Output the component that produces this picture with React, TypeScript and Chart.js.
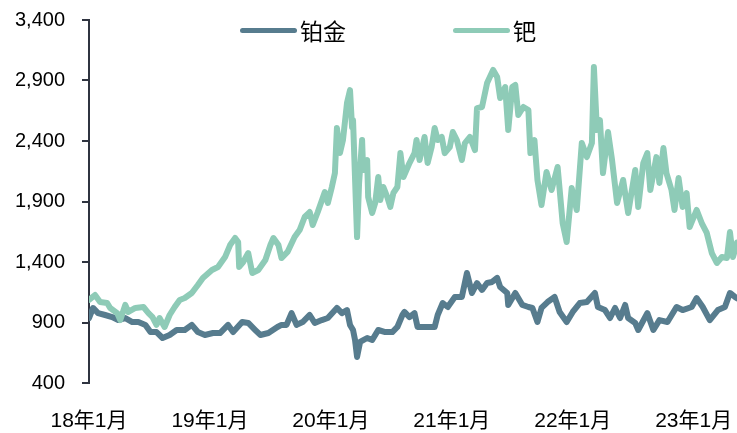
import React, { useEffect, useRef } from "react";
import { Chart, registerables } from "chart.js";
Chart.register(...registerables);

// x positions are months counted from Jan 2018
const xTickMonths = [0, 12, 24, 36, 48, 60];
const xTickLabels = ["18年1月", "19年1月", "20年1月", "21年1月", "22年1月", "23年1月"];
const yTickValues = [400, 900, 1400, 1900, 2400, 2900, 3400];
const seriesNames = ["铂金", "钯"];

const ptMonths = [0, 0.4, 0.9, 1.6, 2.3, 2.9, 3.6, 4.3, 4.9, 5.6, 6.1, 6.7, 7.3, 8.0, 8.7, 9.5, 10.2, 10.8, 11.5, 12.3, 13.0, 13.8, 14.3, 15.2, 15.8, 16.5, 17.0, 17.8, 18.7, 19.1, 19.6, 20.1, 20.6, 21.2, 21.9, 22.4, 23.1, 23.7, 24.6, 25.1, 25.6, 25.9, 26.2, 26.4, 26.6, 26.9, 27.6, 28.1, 28.7, 29.4, 30.1, 30.6, 31.1, 31.3, 31.8, 32.3, 32.6, 33.1, 33.8, 34.3, 34.6, 35.1, 35.6, 36.3, 37.0, 37.5, 38.0, 38.5, 39.0, 39.5, 40.0, 40.5, 40.8, 41.5, 41.6, 42.3, 43.0, 43.6, 44.0, 44.5, 44.9, 45.5, 46.2, 46.7, 47.4, 48.0, 48.7, 49.4, 50.2, 50.5, 51.2, 51.7, 52.2, 52.7, 53.2, 53.5, 54.2, 54.5, 55.4, 56.0, 56.6, 57.4, 58.3, 58.9, 59.8, 60.3, 60.9, 61.6, 62.4, 63.1, 63.6, 64.1, 64.3];
const ptValues = [937, 1020, 978, 962, 945, 920, 937, 904, 904, 880, 821, 821, 772, 797, 838, 838, 880, 821, 797, 813, 813, 880, 821, 904, 896, 838, 797, 813, 863, 880, 880, 978, 880, 904, 962, 896, 920, 937, 1020, 978, 1003, 880, 838, 755, 615, 739, 772, 755, 838, 821, 821, 863, 962, 987, 945, 978, 863, 863, 863, 863, 962, 1061, 1028, 1111, 1111, 1309, 1144, 1226, 1169, 1226, 1235, 1268, 1193, 1144, 1045, 1144, 1045, 1028, 1020, 904, 1020, 1069, 1111, 987, 904, 987, 1061, 1069, 1144, 1028, 1003, 937, 1020, 937, 1045, 937, 896, 838, 978, 838, 920, 904, 1028, 1003, 1028, 1102, 1028, 920, 1003, 1028, 1144, 1111, 1100];

const pdMonths = [0, 0.6, 1.1, 1.8, 2.1, 2.8, 3.1, 3.6, 3.9, 4.6, 5.4, 5.9, 6.3, 6.7, 7.0, 7.5, 8.0, 8.5, 9.0, 9.5, 10.2, 10.8, 11.3, 12.2, 12.8, 13.5, 14.0, 14.5, 14.8, 14.9, 15.3, 15.8, 16.2, 16.8, 17.5, 18.0, 18.3, 18.8, 19.1, 19.7, 20.4, 20.9, 21.4, 21.9, 22.2, 22.7, 23.4, 23.7, 24.1, 24.4, 24.6, 24.9, 25.2, 25.6, 25.9, 26.1, 26.2, 26.6, 26.8, 27.1, 27.2, 27.6, 27.7, 28.1, 28.4, 28.7, 28.9, 29.2, 29.6, 29.9, 30.2, 30.6, 30.9, 31.2, 31.5, 31.8, 32.3, 32.5, 32.8, 33.3, 33.6, 34.0, 34.3, 34.6, 35.0, 35.3, 35.8, 36.1, 36.5, 37.0, 37.3, 37.8, 38.3, 38.5, 39.0, 39.5, 40.1, 40.5, 40.8, 41.3, 41.6, 42.0, 42.3, 42.6, 43.1, 43.6, 43.8, 44.2, 44.5, 44.9, 45.4, 45.9, 46.5, 47.0, 47.4, 47.9, 48.4, 48.9, 49.4, 49.9, 50.1, 50.4, 50.7, 51.0, 51.5, 51.9, 52.4, 53.0, 53.5, 54.2, 54.5, 55.0, 55.4, 55.7, 56.3, 56.6, 57.0, 57.3, 57.8, 58.1, 58.5, 58.9, 59.3, 59.6, 60.3, 60.8, 61.3, 61.8, 62.3, 62.8, 63.3, 63.6, 63.9, 64.3];
const pdValues = [1086, 1127, 1070, 1061, 1020, 978, 920, 1045, 987, 1020, 1028, 978, 945, 880, 937, 863, 962, 1028, 1086, 1102, 1144, 1210, 1268, 1334, 1359, 1441, 1540, 1598, 1565, 1359, 1400, 1474, 1309, 1334, 1416, 1540, 1598, 1540, 1433, 1483, 1606, 1664, 1772, 1813, 1706, 1813, 1978, 1888, 2020, 2135, 2507, 2300, 2408, 2714, 2821, 2516, 2573, 1606, 2053, 2408, 2160, 2243, 1937, 1805, 1888, 2102, 1912, 2020, 1937, 1855, 1970, 2020, 2300, 2102, 2160, 2218, 2300, 2408, 2243, 2433, 2218, 2350, 2507, 2408, 2433, 2300, 2350, 2474, 2408, 2243, 2383, 2433, 2325, 2672, 2681, 2879, 2987, 2929, 2755, 2846, 2491, 2846, 2863, 2615, 2681, 2656, 2300, 2408, 2078, 1871, 2144, 1995, 2185, 1722, 1565, 2011, 1830, 2383, 2267, 2383, 3011, 2491, 2573, 2135, 2474, 2243, 1888, 2078, 1805, 2160, 1855, 2218, 2300, 1995, 2267, 2053, 2342, 2135, 1995, 1830, 2094, 1855, 1970, 1689, 1830, 1722, 1640, 1474, 1392, 1441, 1433, 1648, 1441, 1560];

const PT_COLOR = "#577c8e";
const PD_COLOR = "#8ecbb7";
const AXIS_COLOR = "#2f3440";
const X_MAX = 64.3;

export default function App() {
  const ref = useRef<HTMLCanvasElement | null>(null);

  useEffect(() => {
    if (!ref.current) return;
    const chart = new Chart(ref.current, {
      type: "line",
      data: {
        datasets: [
          {
            label: seriesNames[0],
            data: ptMonths.map((m, i) => ({ x: m, y: ptValues[i] })),
            borderColor: PT_COLOR,
            backgroundColor: PT_COLOR,
            borderWidth: 6,
            pointRadius: 0,
            tension: 0,
            borderCapStyle: "round",
            borderJoinStyle: "round",
            order: 2,
          },
          {
            label: seriesNames[1],
            data: pdMonths.map((m, i) => ({ x: m, y: pdValues[i] })),
            borderColor: PD_COLOR,
            backgroundColor: PD_COLOR,
            borderWidth: 6,
            pointRadius: 0,
            tension: 0,
            borderCapStyle: "round",
            borderJoinStyle: "round",
            order: 1,
          },
        ],
      },
      options: {
        responsive: false,
        animation: false,
        devicePixelRatio: 1,
        layout: { padding: { top: 20, right: 0, bottom: 0, left: 0 } },
        plugins: { legend: { display: false }, tooltip: { enabled: false } },
        scales: {
          x: {
            type: "linear",
            min: 0,
            max: X_MAX,
            afterBuildTicks: (s: any) => {
              s.ticks = xTickMonths.map((v) => ({ value: v }));
            },
            afterFit: (s: any) => {
              s.height = 50;
              s.paddingLeft = 0;
              s.paddingRight = 0;
            },
            grid: { display: false, drawTicks: false },
            border: { display: false },
            ticks: {
              autoSkip: false,
              maxRotation: 0,
              padding: 26,
              color: "#000",
              font: { family: "'Liberation Sans', 'Noto Sans CJK SC'", size: 21 },
              callback: (v: any) => {
                const i = xTickMonths.indexOf(Number(v));
                return i >= 0 ? xTickLabels[i] : "";
              },
            },
          },
          y: {
            type: "linear",
            min: 400,
            max: 3400,
            afterBuildTicks: (s: any) => {
              s.ticks = yTickValues.map((v) => ({ value: v }));
            },
            afterFit: (s: any) => {
              s.width = 89;
              s.paddingTop = 0;
              s.paddingBottom = 0;
            },
            grid: {
              display: true,
              drawOnChartArea: false,
              drawTicks: true,
              tickLength: 7,
              color: AXIS_COLOR,
              lineWidth: 2,
            },
            border: { display: true, color: AXIS_COLOR, width: 2 },
            ticks: {
              padding: 17,
              color: "#000",
              font: { family: "'Liberation Sans', 'Noto Sans CJK SC'", size: 20 },
              callback: (v: any) => Number(v).toLocaleString("en-US"),
            },
          },
        },
      },
    });
    return () => chart.destroy();
  }, []);

  const legendText: React.CSSProperties = {
    position: "absolute",
    top: 18,
    fontFamily: "'Noto Sans CJK SC', sans-serif",
    fontSize: 23,
    lineHeight: "24px",
    color: "#000",
    whiteSpace: "nowrap",
  };
  const legendLine: React.CSSProperties = {
    position: "absolute",
    top: 28,
    width: 57,
    height: 5,
    borderRadius: 3,
  };

  return (
    <div style={{ position: "absolute", left: 0, top: 0, width: 737, height: 433, background: "#fff" }}>
      <canvas ref={ref} width={737} height={433} style={{ display: "block" }} />
      <div style={{ ...legendLine, left: 240, background: PT_COLOR }} />
      <div style={{ ...legendText, left: 300 }}>{seriesNames[0]}</div>
      <div style={{ ...legendLine, left: 453, background: PD_COLOR }} />
      <div style={{ ...legendText, left: 513 }}>{seriesNames[1]}</div>
    </div>
  );
}
